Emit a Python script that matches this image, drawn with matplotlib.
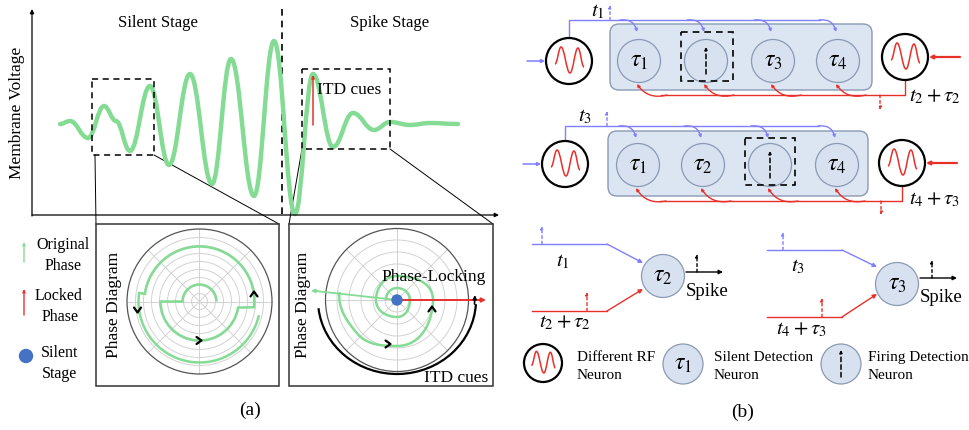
import numpy as np
import matplotlib
matplotlib.use("Agg")
import matplotlib.pyplot as plt
from matplotlib.path import Path
from matplotlib.patches import PathPatch, Circle, Rectangle, FancyBboxPatch, FancyArrowPatch, Arc

plt.rcParams['font.family'] = ['Liberation Serif', 'DejaVu Serif']
plt.rcParams['mathtext.fontset'] = 'stix'

# ---- data (pixel units) ----
# membrane voltage waveform: extrema of the trace
wave_x = [60, 70, 88, 104, 116, 130, 150, 169, 190, 212, 231, 254, 274, 295, 313, 333, 353, 374, 390, 410, 430, 458]
wave_y = [125, 122, 139, 107, 122, 152, 87, 166, 75, 185, 60, 197, 42, 215, 75, 148, 114, 131, 123, 126, 124, 125]

# phase diagram 1: (kind, angle deg, radius)
phase1 = [('M', 0, 17), ('C', 180, 17), ('L', 180, 39), ('C', 351, 39), ('L', 354, 55),
          ('L', 7, 55), ('C', 172, 55), ('L', 172, 61), ('C', 347, 61)]
# phase diagram 2: spiral toward the locked point
phase2 = [('M', 172, 58), ('C', 270, 46), ('C', 360, 36), ('C', 450, 24), ('C', 540, 21),
          ('C', 630, 17), ('C', 720, 13), ('C', 810, 12), ('C', 900, 11)]

neuron_x_row1 = [639, 706, 773, 838]
neuron_x_row2 = [638, 703, 770, 837]
labels_row1 = [r'$\tau_1$', None, r'$\tau_3$', r'$\tau_4$']
labels_row2 = [r'$\tau_1$', r'$\tau_2$', None, r'$\tau_4$']

GREEN = '#84dc94'
BLUE = '#7f7fff'
RED = '#e8302a'
BOXFILL = '#dce6f2'
NFILL = '#d8e1ef'
NEDGE = '#8a9ab5'

fig = plt.figure(figsize=(9.69, 4.31), dpi=100)
ax = fig.add_axes([0, 0, 1, 1])
ax.set_xlim(0, 969)
ax.set_ylim(431, 0)
ax.axis('off')


def smooth_path(xs, ys):
    verts = [(xs[0], ys[0])]
    codes = [Path.MOVETO]
    for i in range(len(xs) - 1):
        d = (xs[i + 1] - xs[i]) * 0.4
        verts += [(xs[i] + d, ys[i]), (xs[i + 1] - d, ys[i + 1]), (xs[i + 1], ys[i + 1])]
        codes += [Path.CURVE4] * 3
    return Path(verts, codes)


def pt(cx, cy, a, r):
    t = np.radians(a)
    return (cx + r * np.cos(t), cy - r * np.sin(t))


def polar_path(cx, cy, steps):
    verts, codes = [], []
    prev = None
    for kind, a, r in steps:
        if kind == 'M':
            verts.append(pt(cx, cy, a, r)); codes.append(Path.MOVETO)
        elif kind == 'L':
            verts.append(pt(cx, cy, a, r)); codes.append(Path.LINETO)
        else:
            a0, r0 = prev
            n = int(np.ceil(abs(a - a0) / 90.0))
            for j in range(n):
                s0 = a0 + (a - a0) * j / n
                s1 = a0 + (a - a0) * (j + 1) / n
                q0 = r0 + (r - r0) * j / n
                q1 = r0 + (r - r0) * (j + 1) / n
                k = 4.0 / 3.0 * np.tan(np.radians(s1 - s0) / 4)
                p0 = np.array(pt(cx, cy, s0, q0))
                p1 = np.array(pt(cx, cy, s1, q1))
                t0 = np.array([-np.sin(np.radians(s0)), -np.cos(np.radians(s0))])
                t1 = np.array([-np.sin(np.radians(s1)), -np.cos(np.radians(s1))])
                verts += [tuple(p0 + k * q0 * t0), tuple(p1 - k * q1 * t1), tuple(p1)]
                codes += [Path.CURVE4] * 3
        prev = (a, r)
    return Path(verts, codes)


def arrow(x0, y0, x1, y1, color, lw=1.0, ls='-', rad=0.0, head=6):
    ax.add_patch(FancyArrowPatch((x0, y0), (x1, y1), arrowstyle='-|>', mutation_scale=head,
                                 color=color, lw=lw, linestyle=ls,
                                 connectionstyle='arc3,rad=%s' % rad, shrinkA=0, shrinkB=0, zorder=4))


def chevron(x, y, d, s=3.5):
    if d == '^':
        xs, ys = [x - s, x, x + s], [y + s * 0.7, y - s * 0.7, y + s * 0.7]
    elif d == 'v':
        xs, ys = [x - s, x, x + s], [y - s * 0.7, y + s * 0.7, y - s * 0.7]
    else:
        xs, ys = [x - s * 0.7, x + s * 0.7, x - s * 0.7], [y - s, y, y + s]
    ax.plot(xs, ys, color='black', lw=1.6, zorder=6, solid_capstyle='round')


def polar_grid(cx, cy, rings, rout):
    for r in rings:
        ax.add_patch(Circle((cx, cy), r, fill=False, ec='#d2d2d2', lw=0.7, zorder=1))
    for a in range(0, 360, 45):
        p = pt(cx, cy, a, rout)
        ax.plot([cx, p[0]], [cy, p[1]], color='#d2d2d2', lw=0.7, zorder=1)
    ax.add_patch(Circle((cx, cy), rout, fill=False, ec='#555555', lw=0.9, zorder=2))


# ================= panel (a) =================
arrow(32, 217, 32, 10, 'black', lw=0.9, head=6)
arrow(32, 216, 499, 216, 'black', lw=0.9, head=6)
ax.text(17, 113, 'Membrane Voltage', rotation=90, ha='center', va='center', fontsize=12.5)
ax.text(158, 23, 'Silent Stage', ha='center', va='center', fontsize=12)
ax.text(390, 23, 'Spike Stage', ha='center', va='center', fontsize=12)
ax.plot([282, 282], [10, 215], color='black', lw=1.2, ls=(0, (4, 3)))

ax.add_patch(PathPatch(smooth_path(wave_x, wave_y), fill=False, ec=GREEN, lw=3.2,
                       capstyle='round', joinstyle='round', zorder=3))

ax.add_patch(Rectangle((92, 80), 62, 76, fill=False, ec='black', lw=1.1, ls=(0, (4, 3)), zorder=4))
ax.add_patch(Rectangle((302, 70), 88, 80, fill=False, ec='black', lw=1.1, ls=(0, (4, 3)), zorder=4))
arrow(313, 126, 313, 76, RED, lw=1.1, head=4)
ax.text(349, 90, 'ITD cues', ha='center', va='center', fontsize=12.5, zorder=5)

# zoom connectors
for (x0, y0), (x1, y1) in [((95, 156), (96, 225)), ((154, 156), (279, 225)),
                           ((302, 150), (289, 225)), ((390, 150), (493, 225))]:
    ax.plot([x0, x1], [y0, y1], color='black', lw=0.7, zorder=2)

ax.add_patch(Rectangle((96, 225), 183, 162, fill=False, ec='#333333', lw=1.1, zorder=2))
ax.add_patch(Rectangle((289, 225), 204, 162, fill=False, ec='#333333', lw=1.1, zorder=2))

# phase diagram 1
c1 = (199.5, 302.5)
polar_grid(c1[0], c1[1], [8, 16, 24, 32, 40, 48, 56, 64], 72.5)
ax.add_patch(PathPatch(polar_path(c1[0], c1[1], phase1), fill=False, ec=GREEN, lw=1.8, zorder=3))
chevron(254, 295, '^')
chevron(137.5, 311, 'v')
chevron(199, 341.5, '>')
ax.text(114, 305, 'Phase Diagram', rotation=90, ha='center', va='center', fontsize=12.5, zorder=5)

# phase diagram 2
c2 = (397, 301)
polar_grid(c2[0], c2[1], [12, 24, 36, 48, 60], 71.5)
ax.add_patch(PathPatch(polar_path(c2[0], c2[1], phase2), fill=False, ec=GREEN, lw=1.8, zorder=3))
arrow(397, 301, 311, 291.5, GREEN, lw=1.3, head=5)
arrow(397, 301, 486, 301, RED, lw=1.4, head=6)
ax.add_patch(Circle(c2, 5, color='#4472c4', zorder=6))
ax.add_patch(Arc(c2, 158, 148, theta1=3, theta2=174, color='black', lw=1.6, zorder=4))
arrow(474.5, 305, 475, 296, 'black', lw=1.2, head=5)
chevron(432, 310, '^')
chevron(388, 345, '>')
ax.text(303, 305, 'Phase Diagram', rotation=90, ha='center', va='center', fontsize=12.5, zorder=5)
ax.text(434, 277, 'Phase-Locking', ha='center', va='center', fontsize=12.5, zorder=5)
ax.text(456, 378, 'ITD cues', ha='center', va='center', fontsize=12.5, zorder=5)

# legend of (a)
arrow(24, 263, 24, 243, GREEN, lw=1.0, head=4)
ax.text(63, 245, 'Original', ha='center', va='center', fontsize=11.5)
ax.text(63, 266, 'Phase', ha='center', va='center', fontsize=11.5)
arrow(24, 316, 24, 290, RED, lw=1.0, head=4)
ax.text(59, 296, 'Locked', ha='center', va='center', fontsize=11.5)
ax.text(60, 317, 'Phase', ha='center', va='center', fontsize=11.5)
ax.add_patch(Circle((26, 357), 6.5, color='#4472c4', zorder=5))
ax.text(60, 353, 'Silent', ha='center', va='center', fontsize=11.5)
ax.text(60, 374, 'Stage', ha='center', va='center', fontsize=11.5)
ax.text(250, 410, '(a)', ha='center', va='center', fontsize=14)


# ================= panel (b) =================
def rf_neuron(x, y, r):
    ax.add_patch(Circle((x, y), r, fc='white', ec='black', lw=1.6, zorder=3))
    s = r / 23.0
    wx = [x - 14 * s, x - 8 * s, x + 1 * s, x + 9 * s, x + 15 * s]
    wy = [y + 3 * s, y - 14 * s, y + 12 * s, y - 13 * s, y + 6 * s]
    ax.add_patch(PathPatch(smooth_path(wx, wy), fill=False, ec=RED, lw=1.1, zorder=4))


def neuron(x, y, label, r=21.5, firing=False):
    ax.add_patch(Circle((x, y), r, fc=NFILL, ec=NEDGE, lw=0.9, zorder=3))
    if label:
        ax.text(x, y, label, ha='center', va='center', fontsize=17, zorder=5)
    if firing:
        arrow(x, y + 13, x, y - 14, 'black', lw=1.1, ls=(0, (3, 2)), head=4)


def row(cy, xs, labels, box, left, right, ytop, ybot, t_lab, t_pos, dash_b, s_lab, s_pos, dash_r, fire_i, fbox):
    ax.add_patch(FancyBboxPatch((box[0], box[1]), box[2], box[3], boxstyle='round,pad=0,rounding_size=9',
                                fc=BOXFILL, ec=NEDGE, lw=1.0, zorder=2))
    for i, x in enumerate(xs):
        neuron(x, cy, labels[i], firing=(i == fire_i))
    ax.add_patch(Rectangle((fbox[0], fbox[1]), fbox[2], fbox[3], fill=False, ec='black', lw=1.2,
                           ls=(0, (4, 3)), zorder=5))
    rf_neuron(left[0], left[1], 23)
    rf_neuron(right[0], right[1], 23)
    arrow(left[0] - 42, left[1], left[0] - 24, left[1], BLUE, lw=1.1, head=5)
    arrow(right[0] + 55, right[1], right[0] + 24, right[1], RED, lw=1.6, head=5)
    # blue feed lines on top
    ax.plot([left[0], left[0], xs[-1] - 18], [left[1] - 23, ytop, ytop], color=BLUE, lw=1.0, zorder=2)
    for x in xs:
        arrow(x - 19, ytop, x - 2, ytop + 12, BLUE, lw=1.0, rad=-0.45, head=4)
    # red feed lines at bottom
    ax.plot([right[0], right[0], xs[0] + 22], [right[1] + 23, ybot, ybot], color=RED, lw=1.0, zorder=2)
    for x in xs:
        arrow(x + 28, ybot, x - 2, cy + 23, RED, lw=1.0, rad=-0.35, head=4)
    arrow(dash_b[0], ytop, dash_b[0], dash_b[1], BLUE, lw=1.0, ls=(0, (2, 2)), head=4)
    arrow(dash_r[0], ybot, dash_r[0], dash_r[1], RED, lw=1.0, ls=(0, (2, 2)), head=4)
    ax.text(t_pos[0], t_pos[1], t_lab, ha='center', va='center', fontsize=15)
    ax.text(s_pos[0], s_pos[1], s_lab, ha='left', va='center', fontsize=15)


row(62, neuron_x_row1, labels_row1, (610, 25, 262, 66), (569, 62), (905, 58), 21, 96,
    r'$t_1$', (598, 12), (610, 6), r'$t_2+\tau_2$', (909, 97), (880, 111), 1, (681, 33, 52, 49))
row(166, neuron_x_row2, labels_row2, (608, 132, 260, 65), (565, 165), (902, 164), 127, 202,
    r'$t_3$', (585, 117), (607, 112), r'$t_4+\tau_3$', (909, 200), (881, 216), 2, (745, 139, 50, 47))


def coincidence(y_b, y_r, x0, xk, tip_b, tip_r, c, lab, dash_b, dash_r, tl, tlpos, sl, slpos, out, spos):
    ax.plot([x0, xk], [y_b, y_b], color=BLUE, lw=1.0)
    arrow(xk, y_b, tip_b[0], tip_b[1], BLUE, lw=1.0, head=6)
    ax.plot([x0, xk], [y_r, y_r], color=RED, lw=1.0)
    arrow(xk, y_r, tip_r[0], tip_r[1], RED, lw=1.0, head=6)
    arrow(dash_b, y_b, dash_b, y_b - 18, BLUE, lw=1.0, ls=(0, (2, 2)), head=4)
    arrow(dash_r, y_r, dash_r, y_r - 19, RED, lw=1.0, ls=(0, (2, 2)), head=4)
    neuron(c[0], c[1], lab)
    arrow(c[0] + 23, out[1], out[0], out[1], 'black', lw=1.0, head=6)
    arrow(out[2], out[1], out[2], out[1] - 18, 'black', lw=1.0, ls=(0, (2, 2)), head=4)
    ax.text(tlpos[0], tlpos[1], tl, ha='center', va='center', fontsize=15)
    ax.text(slpos[0], slpos[1], sl, ha='center', va='center', fontsize=15)
    ax.text(spos[0], spos[1], 'Spike', ha='center', va='center', fontsize=13.5)


coincidence(245, 312, 532, 607, (643, 264), (643, 290), (663, 277), r'$\tau_2$', 542, 587,
            r'$t_1$', (563, 262), r'$t_2+\tau_2$', (565, 323), (723, 273, 697), (707, 292))
coincidence(251, 318, 767, 842, (877, 268), (877, 295), (897, 285), r'$\tau_3$', 783, 822,
            r'$t_3$', (798, 267), r'$t_4+\tau_3$', (802, 330), (957, 279, 932), (941, 298))

# legend of (b)
rf_neuron(543, 364, 19)
ax.text(577, 358, 'Different RF', ha='left', va='center', fontsize=11)
ax.text(577, 376, 'Neuron', ha='left', va='center', fontsize=11)
neuron(683, 365, r'$\tau_1$', r=20)
ax.text(714, 358, 'Silent Detection', ha='left', va='center', fontsize=11)
ax.text(714, 376, 'Neuron', ha='left', va='center', fontsize=11)
neuron(841, 365, None, r=20, firing=True)
ax.text(868, 358, 'Firing Detection', ha='left', va='center', fontsize=11)
ax.text(868, 376, 'Neuron', ha='left', va='center', fontsize=11)
ax.text(743, 412, '(b)', ha='center', va='center', fontsize=14)

fig.savefig('out.png', dpi=100)
